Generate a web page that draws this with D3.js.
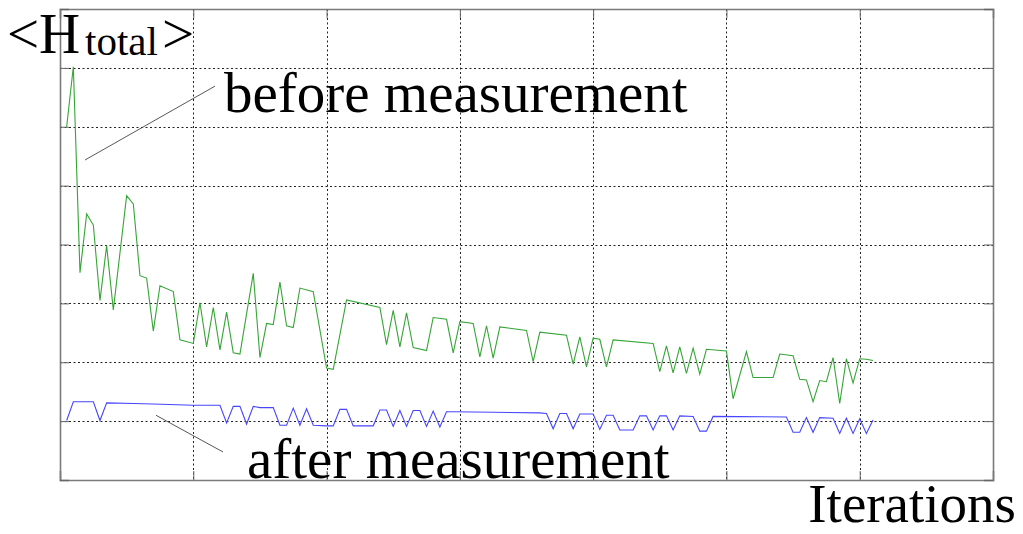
<!DOCTYPE html>
<html><head><meta charset="utf-8">
<script src="https://cdn.jsdelivr.net/npm/d3@7"></script>
<style>html,body{margin:0;padding:0;background:#fff;}svg{display:block;}</style>
</head><body>
<script>
// ---- data (iteration, <H_total>) vertices ----
const beforeIter = [1,2,3,4,5,6,7,8,10,11,12,13,14,15,17,18,20,21,22,23,24,25,26,27,29,30,31,32,33,34,35,36,38,40,41,43,48,49,50,51,52,53,55,56,58,59,60,62,63,64,65,66,70,71,72,76,77,78,79,80,81,82,83,89,90,91,92,93,94,95,96,97,100,101,103,104,107,108,110,111,112,113,114,115,116,117,118,119,120,121,122];
const beforeVal  = [6.00,7.02,3.52,4.52,4.33,3.05,3.98,2.89,4.83,4.69,3.47,3.43,2.53,3.30,3.20,2.38,2.32,3.01,2.26,2.93,2.21,2.85,2.16,2.14,3.51,2.08,2.66,2.64,3.36,2.62,2.59,3.26,3.20,1.90,1.88,3.06,2.93,2.30,2.88,2.26,2.84,2.25,2.20,2.76,2.73,2.16,2.69,2.66,2.09,2.62,2.07,2.60,2.54,2.01,2.51,2.46,1.97,2.43,1.92,2.41,2.39,1.92,2.38,2.32,1.84,2.28,1.82,2.26,1.81,2.24,1.80,2.22,2.19,1.38,2.18,1.74,1.74,2.14,2.11,1.71,1.70,1.33,1.69,1.67,2.08,1.30,2.06,1.65,2.06,2.05,2.03];
const afterIter = [1,2,5,6,7,11,14,20,24,25,26,27,28,29,30,32,33,34,35,36,37,38,40,41,42,43,44,47,48,49,50,51,52,53,54,55,56,57,58,59,65,72,73,74,75,76,77,78,80,81,82,83,84,86,87,88,89,90,91,92,93,95,96,97,98,109,110,111,112,113,114,116,117,118,119,120,121,122];
const afterVal  = [1.01,1.33,1.33,1.01,1.31,1.30,1.29,1.27,1.27,0.97,1.25,1.25,0.95,1.25,1.23,1.23,0.93,0.93,1.22,0.93,1.21,0.93,0.92,0.92,1.20,1.20,0.92,0.92,1.19,1.19,0.91,1.18,0.91,1.18,1.18,0.91,1.17,0.90,1.16,1.16,1.15,1.14,1.13,0.87,1.13,1.13,0.87,1.12,1.12,0.86,1.10,1.10,0.85,0.85,1.09,1.09,0.85,1.09,1.09,0.85,1.09,1.08,0.83,0.83,1.08,1.07,0.81,0.81,1.06,0.81,1.06,1.05,0.79,1.05,0.79,1.04,0.79,1.02];
const xTicks = [0,20,40,60,80,100,120,140];
const yTicks = [0,1,2,3,4,5,6,7,8];
const yLabel = "H", ySub = "total";
const xLabel = "Iterations";
const beforeLabel = "before measurement", afterLabel = "after measurement";

// ---- layout ----
const W = 1023, H = 534;
const svg = d3.select("body").append("svg").attr("width", W).attr("height", H);
svg.append("rect").attr("width", W).attr("height", H).attr("fill", "#fff");
const x = d3.scaleLinear().domain([0, 140]).range([60, 993]);
const y = d3.scaleLinear().domain([0, 8]).range([480, 9]);

// grid
const grid = svg.append("g").attr("stroke", "#222").attr("stroke-width", 1).attr("stroke-dasharray", "2,2.5");
grid.selectAll("line.v").data(xTicks.slice(1, -1)).join("line")
  .attr("x1", d => Math.round(x(d)) + 0.5).attr("x2", d => Math.round(x(d)) + 0.5)
  .attr("y1", y(8)).attr("y2", y(0));
grid.selectAll("line.h").data(yTicks.slice(1, -1)).join("line")
  .attr("y1", d => Math.round(y(d)) + 0.5).attr("y2", d => Math.round(y(d)) + 0.5)
  .attr("x1", x(0)).attr("x2", x(140));

// axes with inward ticks (no labels)
const tl = 9;
const axB = d3.axisBottom(x).tickValues(xTicks).tickSize(-tl).tickFormat("");
const axT = d3.axisTop(x).tickValues(xTicks).tickSize(-tl).tickFormat("");
const axL = d3.axisLeft(y).tickValues(yTicks).tickSize(-tl).tickFormat("");
const axR = d3.axisRight(y).tickValues(yTicks).tickSize(-tl).tickFormat("");
svg.append("g").attr("transform", `translate(0,${y(0)})`).call(axB);
svg.append("g").attr("transform", `translate(0,${y(8)})`).call(axT);
svg.append("g").attr("transform", `translate(${x(0)},0)`).call(axL);
svg.append("g").attr("transform", `translate(${x(140)},0)`).call(axR);
svg.selectAll(".domain").attr("stroke", "#7a7a7a").attr("stroke-width", 1.6);
svg.selectAll(".tick line").attr("stroke", "#666").attr("stroke-width", 1);

// lines
const line = d3.line().x(d => x(d[0])).y(d => y(d[1]));
svg.append("path").datum(beforeIter.map((t, i) => [t, beforeVal[i]]))
  .attr("d", line).attr("fill", "none").attr("stroke", "#35a535").attr("stroke-width", 1.1);
svg.append("path").datum(afterIter.map((t, i) => [t, afterVal[i]]))
  .attr("d", line).attr("fill", "none").attr("stroke", "#4646ff").attr("stroke-width", 1.1);

// annotation leader lines
const ann = svg.append("g").attr("stroke", "#444").attr("stroke-width", 0.9);
ann.append("line").attr("x1", x(3.75)).attr("y1", y(5.435)).attr("x2", x(23.26)).attr("y2", y(6.69));
ann.append("line").attr("x1", x(14.4)).attr("y1", y(1.10)).attr("x2", x(24.46)).attr("y2", y(0.476));

// texts
const serif = "'Liberation Serif','Times New Roman',serif";
const t = svg.append("text").attr("font-family", serif).attr("fill", "#000");
t.append("tspan").attr("x", 7).attr("y", 53).attr("font-size", 57).text("<");
t.append("tspan").attr("x", 39).attr("y", 53).attr("font-size", 57).text(yLabel);
t.append("tspan").attr("x", 85).attr("y", 55).attr("font-size", 41).text(ySub);
t.append("tspan").attr("x", 162).attr("y", 53).attr("font-size", 57).text(">");

svg.append("text").attr("font-family", serif).attr("font-size", 57).attr("x", 224).attr("y", 112).text(beforeLabel);
svg.append("text").attr("font-family", serif).attr("font-size", 57).attr("x", 247).attr("y", 478).text(afterLabel);
svg.append("text").attr("font-family", serif).attr("font-size", 55).attr("text-anchor", "end")
  .attr("x", 1016).attr("y", 522).text(xLabel);
</script>
</body></html>
